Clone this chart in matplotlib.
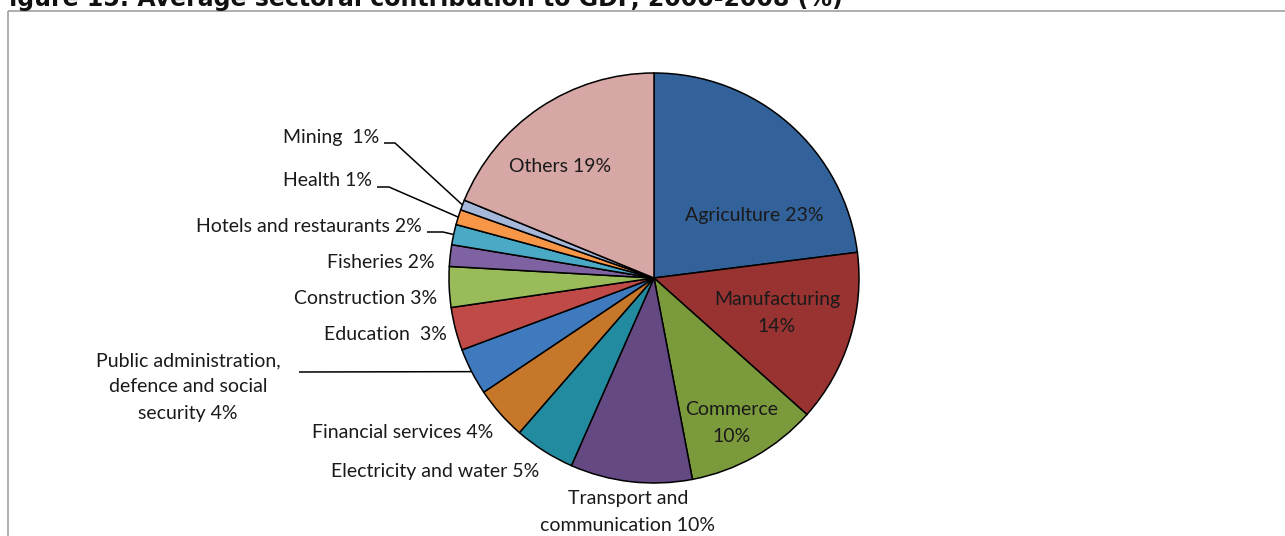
import numpy as np
import matplotlib
matplotlib.use("Agg")
import matplotlib.pyplot as plt
from matplotlib.patches import Rectangle

# Average sectoral contribution to GDP, 2000-2008 (%)
sectors = [
    "Agriculture", "Manufacturing", "Commerce", "Transport and communication",
    "Electricity and water", "Financial services",
    "Public administration, defence and social security", "Education",
    "Construction", "Fisheries", "Hotels and restaurants", "Health",
    "Mining", "Others",
]
shares = [23.0, 13.6, 10.4, 9.6, 4.8, 4.2, 3.7, 3.4, 3.2, 1.7, 1.6, 1.2, 0.8, 18.8]
label_templates = [
    "Agriculture {}%", "Manufacturing\n{}%", "Commerce\n{}%",
    "Transport and\ncommunication {}%", "Electricity and water {}%",
    "Financial services {}%",
    "Public administration,\ndefence and social\nsecurity {}%",
    "Education  {}%", "Construction {}%", "Fisheries {}%",
    "Hotels and restaurants {}%", "Health {}%", "Mining  {}%", "Others {}%",
]
title = "Figure 15: Average sectoral contribution to GDP, 2000-2008 (%)"

colors = [
    "#33629a", "#983332", "#7b9a3c", "#644983", "#238ba0", "#c7772a",
    "#3f7abf", "#bf4a47", "#9abb59", "#7f62a1", "#4aaac6", "#f79646",
    "#a6b8da", "#d7a7a6",
]

W, H, DPI = 1285, 536, 100
fig = plt.figure(figsize=(W / DPI, H / DPI), dpi=DPI)
fig.patch.set_facecolor("white")

# pie geometry in pixels (y measured from top)
CX, CY, R = 654, 278, 205
pie_ax = fig.add_axes([(CX - R) / W, (H - CY - R) / H, 2 * R / W, 2 * R / H])
wedges, _ = pie_ax.pie(
    shares, colors=colors, startangle=90, counterclock=False, radius=1,
    wedgeprops=dict(edgecolor="black", linewidth=1.1),
)
pie_ax.set_xlim(-1, 1)
pie_ax.set_ylim(-1, 1)
pie_ax.set_aspect("equal")
pie_ax.axis("off")

# overlay axes in pixel coordinates for labels and leader lines
ov = fig.add_axes([0, 0, 1, 1], zorder=5)
ov.set_xlim(0, W)
ov.set_ylim(H, 0)
ov.axis("off")
ov.patch.set_alpha(0)

# frame around the chart area
ov.add_patch(Rectangle((8, 11), W + 20, H + 20, fill=False,
                       edgecolor="#a0a0a0", linewidth=1.2))

ov.text(-7, 6, title, fontsize=17, fontweight="bold", family="DejaVu Sans",
        ha="left", va="baseline", color="#111111")

font = dict(family="Lato", fontsize=14, color="#1a1a1a")

# label placement: (x, y, ha, knee points of leader line or None)
placement = [
    (754, 215, "center", None),
    (777, 313, "center", None),
    (732, 423, "center", None),
    (628, 512, "center", None),
    (539, 472, "right", None),
    (493, 433, "right", None),
    (188, 387, "center", [(299, 372)]),
    (447, 335, "right", None),
    (437, 298, "right", None),
    (435, 263, "right", None),
    (422, 227, "right", [(427, 232), (443, 232)]),
    (372, 181, "right", [(377, 187), (389, 187)]),
    (379, 137, "right", [(384, 143), (395, 143)]),
    (560, 166, "center", None),
]

for w, tmpl, val, (x, y, ha, knees) in zip(wedges, label_templates, shares, placement):
    ov.text(x, y, tmpl.format(int(round(val))), ha=ha, va="center",
            multialignment="center", linespacing=1.65, **font)
    if knees:
        mid = np.deg2rad((w.theta1 + w.theta2) / 2)
        ex = CX + R * np.cos(mid)
        ey = CY - R * np.sin(mid)
        xs = [p[0] for p in knees] + [ex]
        ys = [p[1] for p in knees] + [ey]
        ov.plot(xs, ys, color="black", linewidth=1.1, solid_capstyle="butt")

fig.savefig("out.png", dpi=DPI)
